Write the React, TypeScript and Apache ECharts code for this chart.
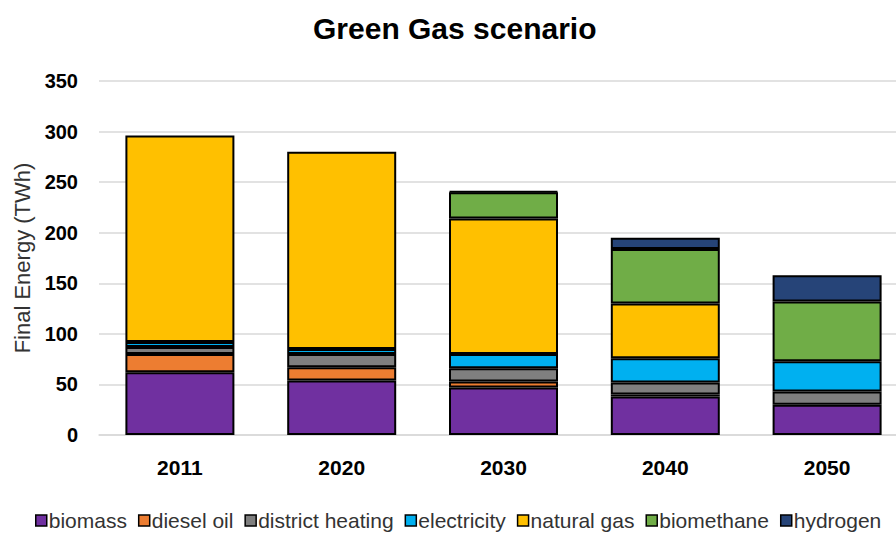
import React, { useEffect, useRef } from "react";
import * as echarts from "echarts";

const categories = ["2011", "2020", "2030", "2040", "2050"];
const seriesNames = [
  "biomass",
  "diesel oil",
  "district heating",
  "electricity",
  "natural gas",
  "biomethane",
  "hydrogen",
];
const biomass = [62, 54, 47, 38, 30];
const dieselOil = [18, 13, 6, 2, 0];
const districtHeating = [7, 13, 13, 12, 13];
const electricity = [5, 5, 14, 24, 30];
const naturalGas = [204, 195, 134, 54, 0];
const biomethane = [0, 0, 26, 54, 59];
const hydrogen = [0, 0, 1, 11, 26];
const yTicks = [0, 50, 100, 150, 200, 250, 300, 350];

const seriesValues = [
  biomass,
  dieselOil,
  districtHeating,
  electricity,
  naturalGas,
  biomethane,
  hydrogen,
];
const colors = [
  "#7030A0",
  "#ED7D31",
  "#7F7F7F",
  "#00B0F0",
  "#FFC000",
  "#70AD47",
  "#264478",
];

const FONT = "'Liberation Sans', Arial, sans-serif";

export default function App() {
  const ref = useRef<HTMLDivElement>(null);
  useEffect(() => {
    if (!ref.current) return;
    const chart = echarts.init(ref.current, null, { renderer: "svg" });
    chart.setOption({
      animation: false,
      backgroundColor: "#ffffff",
      textStyle: { fontFamily: FONT },
      title: {
        text: "Green Gas scenario",
        left: 313,
        top: 13,
        padding: 0,
        textStyle: {
          fontFamily: FONT,
          fontSize: 30,
          fontWeight: "bold",
          color: "#000000",
        },
      },
      legend: {
        data: seriesNames,
        left: 35,
        top: 510,
        padding: 0,
        itemWidth: 11,
        itemHeight: 11,
        itemGap: 11,
        icon: "rect",
        itemStyle: { borderColor: "#000000", borderWidth: 1.5 },
        textStyle: {
          fontFamily: FONT,
          fontSize: 21,
          color: "#333333",
          padding: [0, 0, 0, -3],
        },
      },
      grid: {
        left: 99,
        top: 81,
        width: 809,
        bottom: 102,
        containLabel: false,
      },
      xAxis: {
        type: "category",
        data: categories,
        axisTick: { show: false },
        axisLine: { show: true, lineStyle: { color: "#d9d9d9", width: 1.5 } },
        axisLabel: {
          fontFamily: FONT,
          fontSize: 21,
          fontWeight: "bold",
          color: "#000000",
          margin: 22,
        },
      },
      yAxis: {
        type: "value",
        min: yTicks[0],
        max: yTicks[yTicks.length - 1],
        interval: 50,
        name: "Final Energy (TWh)",
        nameLocation: "middle",
        nameGap: 66,
        nameTextStyle: {
          fontFamily: FONT,
          fontSize: 22,
          color: "#333333",
        },
        axisLine: { show: false },
        axisTick: { show: false },
        splitLine: { lineStyle: { color: "#d9d9d9", width: 1.5 } },
        axisLabel: {
          fontFamily: FONT,
          fontSize: 20,
          fontWeight: "bold",
          color: "#000000",
          margin: 21,
        },
      },
      series: seriesNames.map((name, i) => ({
        name,
        type: "bar",
        stack: "total",
        barWidth: 109,
        data: seriesValues[i].map((v) => (v === 0 ? null : v)),
        itemStyle: {
          color: colors[i],
          borderColor: "#000000",
          borderWidth: 2,
        },
      })),
    });
    return () => chart.dispose();
  }, []);
  return (
    <div
      ref={ref}
      style={{
        position: "fixed",
        left: 0,
        top: 0,
        width: 910,
        height: 537,
        background: "#fff",
      }}
    />
  );
}
